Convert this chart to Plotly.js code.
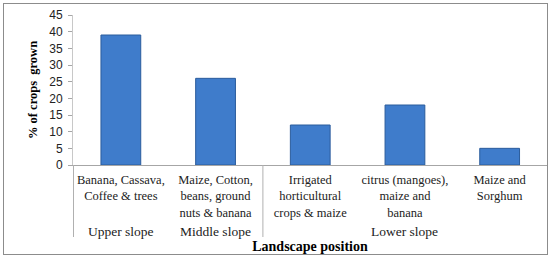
<!DOCTYPE html>
<html>
<head>
<meta charset="utf-8">
<script src="https://cdn.plot.ly/plotly-3.0.1.min.js"></script>
<style>
  body { margin: 0; background: #fff; }
  #chart { position: absolute; left: 3px; top: 3px; width: 543px; height: 250px; border: 1px solid #8c8c8c; }
</style>
</head>
<body>
<div id="chart"></div>
<script>
// crop categories along the slope
const crops = [
    'Banana, Cassava,<br>Coffee & trees',
    'Maize, Cotton,<br>beans, ground<br>nuts & banana',
    'Irrigated<br>horticultural<br>crops & maize',
    'citrus (mangoes),<br>maize and<br>banana',
    'Maize and<br>Sorghum'
];
const pctGrown = [39, 26, 12, 18, 5];

// slope groups: label and the category index they sit under
const slopeLabels = ['Upper slope', 'Middle slope', 'Lower slope'];
const slopeCenters = [0, 1, 3];
// divider lines (between category positions)
const dividers = [-0.5, 1.5];

const serif = '"Liberation Serif", "Times New Roman", serif';

const trace = {
    x: crops,
    y: pctGrown,
    type: 'bar',
    marker: { color: '#3f7ccb', line: { color: '#2b5c9c', width: 1 } },
    hoverinfo: 'skip'
};

const annotations = slopeLabels.map((t, i) => ({
    text: t,
    x: slopeCenters[i],
    xref: 'x',
    y: -0.44,
    yref: 'paper',
    yanchor: 'middle',
    showarrow: false,
    font: { family: serif, size: 13.5, color: '#222' }
}));

const shapes = dividers.map(d => ({
    type: 'line',
    xref: 'x', yref: 'paper',
    x0: d, x1: d, y0: 0, y1: -0.48,
    line: { color: '#b0b0b0', width: 1 }
}));

const layout = {
    width: 543,
    height: 250,
    margin: { l: 69, r: 0, t: 11, b: 89 },
    paper_bgcolor: '#fff',
    plot_bgcolor: '#fff',
    showlegend: false,
    bargap: 0.58,
    xaxis: {
        type: 'category',
        showline: true,
        linecolor: '#a6a6a6',
        linewidth: 1,
        ticks: '',
        ticklabelstandoff: 3,
        tickfont: { family: serif, size: 12.5, color: '#222' },
        tickangle: 0,
        title: {
            text: '<b>Landscape position</b>',
            font: { family: serif, size: 14, color: '#000' },
            standoff: 28
        },
        automargin: false
    },
    yaxis: {
        range: [0, 45],
        dtick: 5,
        showgrid: false,
        zeroline: false,
        showline: true,
        linecolor: '#c8c8c8',
        ticks: 'outside',
        ticklen: 4,
        tickcolor: '#a6a6a6',
        ticklabelstandoff: 3,
        tickfont: { family: '"Liberation Sans", Arial, sans-serif', size: 12, color: '#222' },
        title: {
            text: '<b>% of crops  grown</b>',
            font: { family: serif, size: 12.5, color: '#000' },
            standoff: 8
        },
        automargin: false
    },
    annotations: annotations,
    shapes: shapes
};

Plotly.newPlot('chart', [trace], layout, { displayModeBar: false, staticPlot: true });
</script>
</body>
</html>
